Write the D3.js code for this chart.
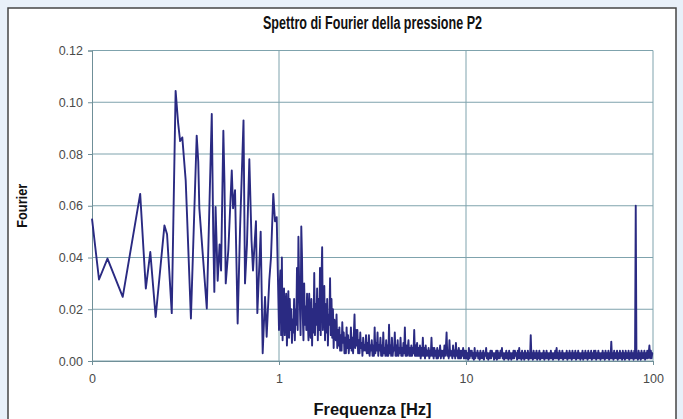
<!DOCTYPE html>
<meta charset="utf-8">
<head>
<style>
body { margin: 0; background: #e8f0f9; }
svg { display: block; font-family: "Liberation Sans", Arial, sans-serif; }
.grid line { stroke: #7fa3ad; stroke-width: 1px; }
.axis path, .axis line { stroke: #6f8f98; }
.axis text { fill: #4a4a4a; font-size: 12.5px; }
.spectrum { fill: none; stroke: #2a2a82; stroke-width: 1.9px; stroke-linejoin: round; }
.title { font-weight: bold; fill: #111; }
</style>
<script src="https://d3js.org/d3.v7.min.js"></script>
<title>Spettro di Fourier della pressione P2</title>
</head>
<body>
<script>

// low frequency part, single peaks readable one by one [Hz]
var lowFreq = [0.100, 0.109, 0.121, 0.146, 0.181, 0.194, 0.205, 0.219, 0.244, 0.252,
               0.267, 0.280, 0.289, 0.296, 0.304, 0.317, 0.322, 0.338, 0.363, 0.370,
               0.375, 0.411, 0.437, 0.445, 0.451, 0.458, 0.470, 0.481, 0.490, 0.504,
               0.511, 0.519, 0.536, 0.559, 0.568, 0.582, 0.601, 0.619, 0.646, 0.658,
               0.674, 0.694, 0.713, 0.726, 0.753, 0.766, 0.798, 0.818, 0.842, 0.859,
               0.887, 0.906, 0.932, 0.952, 0.972];
var lowAmp  = [0.055, 0.0315, 0.0396, 0.0248, 0.0646, 0.028, 0.0421, 0.017, 0.0524, 0.049,
               0.0185, 0.1044, 0.0917, 0.085, 0.0864, 0.0698, 0.057, 0.0164, 0.0871, 0.0771,
               0.059, 0.0203, 0.0955, 0.049, 0.0267, 0.0595, 0.031, 0.045, 0.035, 0.089,
               0.069, 0.030, 0.043, 0.0736, 0.059, 0.066, 0.0145, 0.051, 0.093, 0.030,
               0.045, 0.078, 0.0466, 0.035, 0.054, 0.0185, 0.050, 0.003, 0.0248, 0.0094,
               0.031, 0.040, 0.0646, 0.054, 0.0556];

// dense part: samples evenly spaced on the log axis, 260 per decade
var perDecade = 260;
var decade1Amp = [ // 1 - 10 Hz
  0.012, 0.030, 0.035, 0.010, 0.040, 0.008, 0.022, 0.028, 0.010, 0.020, 0.026, 0.006, 0.015, 0.027, 0.009, 0.024, 0.012, 0.020, 0.007, 0.016,
  0.011, 0.024, 0.008, 0.020, 0.014, 0.036, 0.012, 0.048, 0.030, 0.022, 0.010, 0.052, 0.040, 0.018, 0.008, 0.030, 0.014, 0.021, 0.012, 0.026,
  0.016, 0.008, 0.026, 0.012, 0.009, 0.024, 0.006, 0.020, 0.011, 0.034, 0.010, 0.022, 0.014, 0.028, 0.008, 0.024, 0.012, 0.036, 0.010, 0.030,
  0.044, 0.012, 0.020, 0.029, 0.008, 0.022, 0.011, 0.024, 0.006, 0.018, 0.014, 0.032, 0.010, 0.024, 0.009, 0.020, 0.005, 0.016, 0.012, 0.008,
  0.018, 0.005, 0.012, 0.006, 0.013, 0.004, 0.010, 0.004, 0.015, 0.007, 0.011, 0.003, 0.009, 0.003, 0.013, 0.005, 0.010, 0.003, 0.008, 0.005,
  0.013, 0.004, 0.009, 0.003, 0.010, 0.018, 0.005, 0.012, 0.006, 0.012, 0.003, 0.008, 0.003, 0.011, 0.005, 0.007, 0.002, 0.009, 0.004, 0.006,
  0.004, 0.010, 0.003, 0.007, 0.003, 0.010, 0.002, 0.006, 0.004, 0.008, 0.002, 0.006, 0.002, 0.013, 0.003, 0.007, 0.004, 0.011, 0.002, 0.006,
  0.004, 0.009, 0.002, 0.006, 0.002, 0.011, 0.003, 0.005, 0.002, 0.008, 0.002, 0.006, 0.002, 0.014, 0.003, 0.006, 0.002, 0.009, 0.002, 0.005,
  0.004, 0.011, 0.002, 0.006, 0.002, 0.008, 0.002, 0.005, 0.003, 0.009, 0.002, 0.005, 0.002, 0.007, 0.003, 0.013, 0.002, 0.006, 0.002, 0.005,
  0.008, 0.002, 0.005, 0.002, 0.006, 0.002, 0.005, 0.003, 0.012, 0.002, 0.006, 0.002, 0.007, 0.002, 0.005, 0.002, 0.006, 0.001, 0.005, 0.002,
  0.009, 0.002, 0.005, 0.001, 0.006, 0.002, 0.004, 0.002, 0.005, 0.001, 0.004, 0.002, 0.009, 0.002, 0.005, 0.001, 0.005, 0.002, 0.004, 0.001,
  0.005, 0.001, 0.004, 0.002, 0.006, 0.001, 0.004, 0.002, 0.004, 0.001, 0.006, 0.002, 0.005, 0.011, 0.002, 0.004, 0.001, 0.008, 0.002, 0.004,
  0.003, 0.001, 0.006, 0.002, 0.004, 0.001, 0.007, 0.002, 0.004, 0.001, 0.005, 0.001, 0.004, 0.001, 0.004, 0.002, 0.005, 0.001, 0.004, 0.001
];
var decade2Amp = [ // 10 - 100 Hz
  0.004, 0.001, 0.003, 0.0005, 0.005, 0.001, 0.004, 0.002, 0.004, 0.001, 0.003, 0.0005, 0.005, 0.001, 0.003, 0.002, 0.004, 0.001, 0.003, 0.0005,
  0.004, 0.001, 0.003, 0.001, 0.004, 0.0005, 0.003, 0.002, 0.005, 0.001, 0.003, 0.0005, 0.003, 0.001, 0.004, 0.001, 0.004, 0.002, 0.003, 0.0005,
  0.003, 0.001, 0.004, 0.0005, 0.004, 0.001, 0.003, 0.001, 0.004, 0.002, 0.005, 0.001, 0.003, 0.0005, 0.003, 0.001, 0.004, 0.001, 0.003, 0.0005,
  0.004, 0.001, 0.003, 0.0005, 0.003, 0.001, 0.004, 0.001, 0.004, 0.002, 0.003, 0.0005, 0.004, 0.001, 0.005, 0.001, 0.003, 0.0005, 0.004, 0.001,
  0.003, 0.0005, 0.004, 0.001, 0.003, 0.001, 0.004, 0.0005, 0.003, 0.001, 0.010, 0.001, 0.003, 0.0005, 0.004, 0.001, 0.003, 0.001, 0.004, 0.0005,
  0.003, 0.001, 0.004, 0.0005, 0.003, 0.001, 0.003, 0.001, 0.004, 0.0005, 0.003, 0.001, 0.004, 0.001, 0.003, 0.0005, 0.003, 0.001, 0.004, 0.001,
  0.003, 0.0005, 0.003, 0.001, 0.004, 0.001, 0.005, 0.001, 0.003, 0.0005, 0.004, 0.001, 0.003, 0.001, 0.004, 0.0005, 0.003, 0.001, 0.003, 0.001,
  0.004, 0.0005, 0.003, 0.001, 0.004, 0.001, 0.003, 0.0005, 0.004, 0.001, 0.003, 0.001, 0.004, 0.0005, 0.003, 0.001, 0.004, 0.001, 0.003, 0.0005,
  0.003, 0.001, 0.004, 0.0005, 0.003, 0.001, 0.004, 0.001, 0.003, 0.0005, 0.004, 0.001, 0.003, 0.001, 0.004, 0.0005, 0.003, 0.001, 0.004, 0.001,
  0.004, 0.0005, 0.003, 0.001, 0.004, 0.001, 0.003, 0.0005, 0.003, 0.001, 0.004, 0.001, 0.003, 0.0005, 0.004, 0.001, 0.003, 0.001, 0.004, 0.0005,
  0.003, 0.001, 0.0075, 0.001, 0.003, 0.0005, 0.004, 0.001, 0.003, 0.001, 0.004, 0.0005, 0.003, 0.001, 0.004, 0.001, 0.003, 0.0005, 0.004, 0.001,
  0.003, 0.0005, 0.004, 0.001, 0.003, 0.001, 0.004, 0.0005, 0.003, 0.001, 0.004, 0.001, 0.003, 0.0005, 0.004, 0.001, 0.060, 0.001, 0.003, 0.0005,
  0.004, 0.001, 0.003, 0.0005, 0.004, 0.001, 0.003, 0.001, 0.004, 0.0005, 0.003, 0.001, 0.004, 0.001, 0.003, 0.006, 0.001, 0.004, 0.001, 0.003,
  0.003
];

var xTicks = [0.1, 1, 10, 100];
var xTickLabels = ["0", "1", "10", "100"];
var yTicks = [0, 0.02, 0.04, 0.06, 0.08, 0.10, 0.12];

// build one series from the pieces
var data = lowFreq.map(function(f, i) { return {f: f, a: lowAmp[i]}; });
decade1Amp.forEach(function(a, i) { data.push({f: Math.pow(10, i / perDecade), a: a}); });
decade2Amp.forEach(function(a, i) { data.push({f: Math.pow(10, 1 + i / perDecade), a: a}); });

var W = 683, H = 419;
var plot = {left: 92, right: 653, top: 50.5, bottom: 361};

var svg = d3.select("body").append("svg")
    .attr("width", W)
    .attr("height", H);

// chart frame
svg.append("rect")
    .attr("x", 8).attr("y", 8)
    .attr("width", 668).attr("height", 420)
    .attr("fill", "#fff")
    .attr("stroke", "#444")
    .attr("stroke-width", 1.5);

var x = d3.scaleLog().domain([0.1, 100]).range([plot.left, plot.right]);
var y = d3.scaleLinear().domain([0, 0.12]).range([plot.bottom, plot.top]);

// gridlines
svg.append("g")
    .attr("class", "grid")
    .selectAll("line")
    .data(yTicks)
  .enter().append("line")
    .attr("x1", plot.left).attr("x2", plot.right)
    .attr("y1", function(d) { return y(d); })
    .attr("y2", function(d) { return y(d); });

svg.append("g")
    .attr("class", "grid")
    .selectAll("line")
    .data(xTicks.slice(1))
  .enter().append("line")
    .attr("y1", plot.top).attr("y2", plot.bottom)
    .attr("x1", function(d) { return x(d); })
    .attr("x2", function(d) { return x(d); });

// axes
svg.append("g")
    .attr("class", "axis")
    .attr("transform", "translate(" + plot.left + ",0)")
    .call(d3.axisLeft(y).tickValues(yTicks).tickFormat(d3.format(".2f")).tickSize(4).tickPadding(5));

svg.append("g")
    .attr("class", "axis")
    .attr("transform", "translate(0," + plot.bottom + ")")
    .call(d3.axisBottom(x).tickValues(xTicks)
      .tickFormat(function(d, i) { return xTickLabels[i]; })
      .tickSize(4).tickPadding(9));

svg.selectAll(".axis .domain").attr("stroke", "#666");

// the spectrum
var line = d3.line()
    .x(function(d) { return x(d.f); })
    .y(function(d) { return y(d.a); });

svg.append("path")
    .datum(data)
    .attr("class", "spectrum")
    .attr("d", line);

// texts
svg.append("text")
    .attr("class", "title")
    .attr("x", (plot.left + plot.right) / 2)
    .attr("y", 29)
    .attr("text-anchor", "middle")
    .attr("font-size", 18)
    .attr("textLength", 219)
    .attr("lengthAdjust", "spacingAndGlyphs")
    .text("Spettro di Fourier della pressione P2");

svg.append("text")
    .attr("class", "title")
    .attr("x", (plot.left + plot.right) / 2)
    .attr("y", 415)
    .attr("text-anchor", "middle")
    .attr("font-size", 16)
    .attr("textLength", 118)
    .attr("lengthAdjust", "spacingAndGlyphs")
    .text("Frequenza [Hz]");

svg.append("text")
    .attr("class", "title")
    .attr("transform", "translate(27," + y(0.06) + ") rotate(-90)")
    .attr("text-anchor", "middle")
    .attr("font-size", 14)
    .attr("textLength", 44)
    .attr("lengthAdjust", "spacingAndGlyphs")
    .text("Fourier");

</script>
</body>
</html>
